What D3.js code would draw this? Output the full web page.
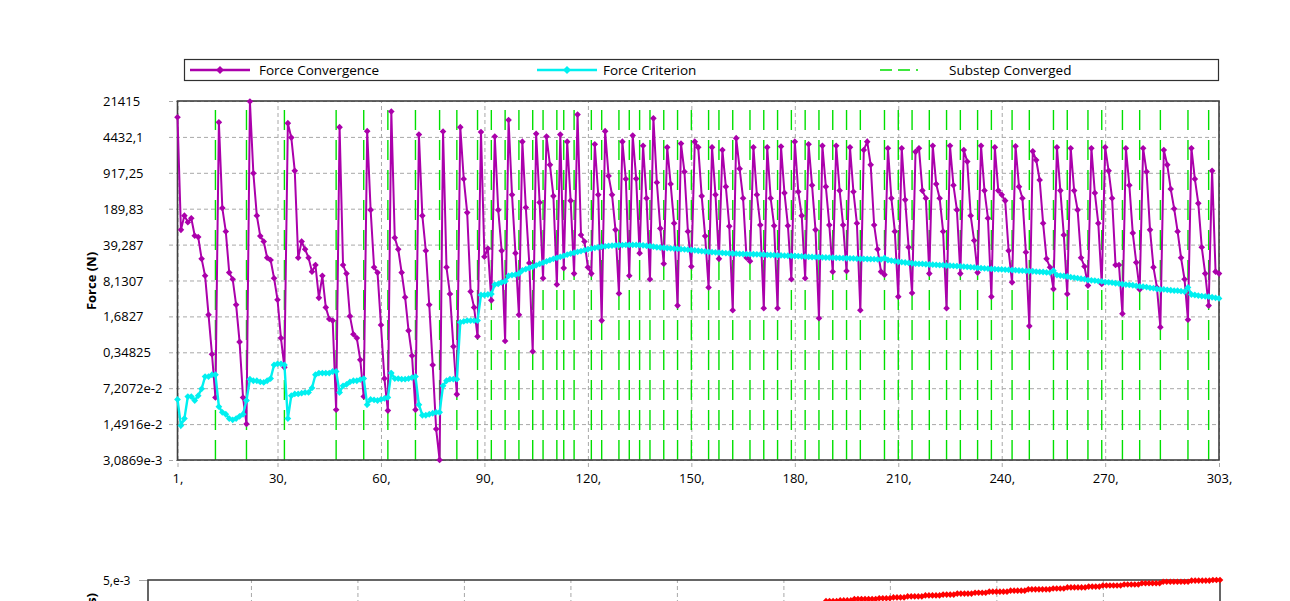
<!DOCTYPE html>
<html><head><meta charset="utf-8">
<script src="https://cdn.jsdelivr.net/npm/d3@7"></script>
<style>
body{margin:0;background:#fff}
svg{display:block}
text{font-family:"Open Sans",Arial,sans-serif;fill:#000}
</style></head>
<body><svg id="c" width="1290" height="601"></svg>
<script>
// ---------- data ----------
const iterTicks=[1,30,60,90,120,150,180,210,240,270,303];
const iterTickLabels=["1,","30,","60,","90,","120,","150,","180,","210,","240,","270,","303,"];
const forceTicks=[21415,4432.1,917.25,189.83,39.287,8.1307,1.6827,0.34825,0.072072,0.014916,0.0030869];
const forceTickLabels=["21415","4432,1","917,25","189,83","39,287","8,1307","1,6827","0,34825","7,2072e-2","1,4916e-2","3,0869e-3"];
const timeTicks=[0.005];
const timeTickLabels=["5,e-3"];
const seriesNames=["Force Convergence","Force Criterion","Substep Converged"];

// iterations at which a substep converged
const substepConverged=[12,21,32,47,55,62,70,77,82,88,92,96,100,104,107,111,113,116,121,124,129,132,135,138,142,146,150,155,158,162,167,171,175,179,183,187,191,195,199,206,210,214,219,224,228,233,237,243,248,255,259,265,269,275,280,286,294,300];

// Force Convergence (N), one value per cumulative iteration 1..303
const forceConvergence=[
 10500,75,140,105,125,58,55,21,10,1.8,0.32,0.048,
 8400,195,70,11.5,8.6,2.8,0.55,0.048,0.015,
 21000,900,140,57,45,22,20,9,3.5,0.65,0.18,
 8100,4300,1000,22,45,32,22,12,16,3.8,10,2.5,1.5,1.4,0.028,
 6800,16,11,1.7,0.77,0.65,0.25,0.05,
 5700,180,14.5,11.5,1.15,0.11,0.027,
 13500,53,32,11.5,3.9,0.9,0.3,0.028,
 4900,140,30,2.8,0.2,0.012,0.0031,
 5600,14.5,4.5,0.45,0.055,
 6800,700,160,5,2.5,0.7,
 5500,23,33,3.4,
 4500,180,30,0.57,
 9300,350,27,1.8,
 3600,200,17.5,0.36,
 5100,250,9,
 4500,1300,330,6.8,
 4900,14,
 3600,270,11,
 11800,60,45,14.5,11,
 3200,350,1.4,
 5700,800,350,75,4.6,
 3600,700,10,
 4700,710,27,
 3000,300,8.6,
 10000,600,80,17,
 2800,560,100,2.7,
 3300,960,70,15,
 3600,2800,330,57,6,
 2800,350,21,
 2500,500,88,2.2,
 4200,1100,300,22,19,
 2800,350,93,2.4,
 2800,300,90,2.4,
 2900,380,90,8.6,
 3600,400,140,9,
 3200,530,75,1.55,
 3000,500,93,12,
 3000,420,93,12.3,
 2800,400,100,2.2,
 2500,3600,1300,93,32,12,10.5,
 2700,300,70,4,
 2700,280,35,4.7,
 2300,2700,420,300,11,
 3000,560,300,70,2.4,
 3000,530,180,11,
 2500,1500,140,47,11.5,
 3000,420,125,4,
 2800,420,350,270,30,7.5,
 2950,500,300,28,1.1,
 2350,1600,670,100,21,14.5,5.6,
 2800,420,60,4.5,
 2700,420,180,22,15,6.5,
 2700,380,100,7,
 2800,1000,300,16,16,1.9,
 2700,530,65,18,5.5,
 2700,960,75,14.5,6,1.05,
 2500,1300,450,190,70,22,8.6,1.45,
 2700,700,240,35,11,2.7,
 1000,12,11
];

// Force Criterion (N), one value per cumulative iteration 1..303
const forceCriterion=[
 0.044,0.014,0.019,0.05,0.05,0.042,0.052,0.07,0.12,0.12,
 0.13,0.13,0.032,0.025,0.023,0.019,0.018,0.019,0.021,0.023,
 0.042,0.107,0.1,0.1,0.095,0.093,0.1,0.11,0.2,0.21,
 0.21,0.2,0.019,0.052,0.056,0.056,0.058,0.06,0.06,0.073,
 0.13,0.14,0.14,0.14,0.14,0.15,0.15,0.06,0.08,0.085,
 0.095,0.1,0.1,0.105,0.11,0.035,0.044,0.043,0.042,0.044,
 0.046,0.048,0.14,0.11,0.11,0.107,0.107,0.11,0.115,0.12,
 0.035,0.022,0.022,0.023,0.024,0.025,0.025,0.08,0.1,0.107,
 0.107,0.107,1.3,1.35,1.4,1.4,1.4,1.4,4.3,4.3,
 4.4,4.5,6.8,7.0,7.5,7.8,10,10.3,10.5,11,
 12.7,13.4,14.1,14.8,15.8,16.8,17.8,18.8,19.9,21,
 22,23,24,25.2,26.5,27.5,28.5,29.6,30.8,32,
 33,34,35,35.8,36.5,37.1,37.6,38,38.3,38.5,
 38.7,38.8,38.8,38.7,38.5,38,37.3,36.6,35.8,35,
 34.6,34.2,33.8,33.4,33,32.6,32.2,31.8,31.4,31,
 30.5,30,29.5,29,28.5,28.2,27.9,27.6,27.3,27,
 26.8,26.6,26.4,26.2,26,25.9,25.8,25.7,25.6,25.5,
 25.3,25.1,24.9,24.7,24.5,24.4,24.2,24.1,24,23.8,
 23.6,23.4,23.2,23,22.8,22.7,22.6,22.5,22.3,22.2,
 22.1,22,21.9,21.7,21.6,21.5,21.4,21.2,21.1,21,
 20.9,20.8,20.7,20.6,20.5,21.8,20.0,19.5,19,18.5,
 18.2,17.9,17.6,17.3,17,16.9,16.8,16.6,16.4,16.3,
 16.2,16,15.9,15.7,15.6,15.4,15.3,15.1,15,14.8,
 14.6,14.4,14.2,14,13.8,13.7,13.5,13.4,13.3,13.2,
 13.1,13,12.9,12.8,12.6,12.5,12.4,12.3,12.2,12,
 11.9,11.8,11.6,11.5,12.5,10.3,10.1,9.9,9.7,9.4,
 9.2,9,8.8,8.6,8.3,8.2,8.1,7.9,7.8,7.6,
 7.5,7.4,7.2,7.1,6.9,6.8,6.7,6.6,6.4,6.3,
 6.2,6.1,5.9,5.8,5.6,5.5,5.5,5.4,5.3,5.2,
 5.2,5.1,5.0,6.0,4.4,4.3,4.2,4.1,4.05,4.0,
 3.9,3.8,3.7
];

// Time (s) of the substeps visible in the lower chart (substep end iteration -> time)
const timeIters=[195,199,206,210,214,219,224,228,233,237,243,248,255,259,265,269,275,280,286,294,300,303];
const timeValues=[4.706e-3,4.717e-3,4.736e-3,4.747e-3,4.758e-3,4.772e-3,4.786e-3,4.797e-3,4.811e-3,4.822e-3,4.838e-3,4.852e-3,4.870e-3,4.881e-3,4.897e-3,4.908e-3,4.924e-3,4.938e-3,4.954e-3,4.976e-3,4.992e-3,5.000e-3];

// ---------- drawing ----------
const MAG="#ab00ab", CYAN="#00f0f0", GREEN="#00e000", GRID="#a8a8a8", FRAME="#404040";
const svg=d3.select("#c");
const L=177.5,R=1219,T=101,B=460;
const x=d3.scaleLinear().domain([1,303]).range([L,R]);
const y=d3.scaleLog().domain([0.0030869,21415]).range([B,T]);
const diamond=r=>`M0,${-r}L${r},0L0,${r}L${-r},0Z`;

// y axis with gridlines
const yAx=svg.append("g").attr("transform",`translate(169,0)`)
 .call(d3.axisLeft(y).tickValues(forceTicks).tickFormat((d,i)=>forceTickLabels[i])
   .tickSize(-(R-169)).tickPadding(0));
yAx.select(".domain").remove();
yAx.selectAll("line").attr("stroke",GRID).attr("stroke-dasharray","4,3");
yAx.selectAll("text").attr("x",103-169).attr("text-anchor","start").attr("dy","0.35em")
 .style("font-size","13px");

// x axis with gridlines
const xAx=svg.append("g").attr("transform",`translate(0,467)`)
 .call(d3.axisBottom(x).tickValues(iterTicks).tickFormat((d,i)=>iterTickLabels[i])
   .tickSize(-(467-T)).tickPadding(7));
xAx.select(".domain").remove();
xAx.selectAll("line").attr("stroke",GRID).attr("stroke-dasharray","4,3");
xAx.selectAll("text").style("font-size","13px");

// substep converged lines
svg.append("g").selectAll("line").data(substepConverged).join("line")
 .attr("x1",d=>x(d)).attr("x2",d=>x(d)).attr("y1",B).attr("y2",T+6)
 .attr("stroke",GREEN).attr("stroke-width",1.4).attr("stroke-dasharray","20,10");

// frame
svg.append("rect").attr("x",L).attr("y",T).attr("width",R-L).attr("height",B-T)
 .attr("fill","none").attr("stroke",FRAME).attr("stroke-width",1.6);

// force convergence
const line=d3.line().x((d,i)=>x(i+1)).y(d=>y(d));
svg.append("path").datum(forceConvergence).attr("d",line)
 .attr("fill","none").attr("stroke",MAG).attr("stroke-width",2);
svg.append("g").selectAll("path").data(forceConvergence).join("path")
 .attr("d",diamond(3.3)).attr("transform",(d,i)=>`translate(${x(i+1)},${y(d)})`).attr("fill",MAG);

// force criterion
svg.append("path").datum(forceCriterion).attr("d",line)
 .attr("fill","none").attr("stroke",CYAN).attr("stroke-width",2.4);
svg.append("g").selectAll("path").data(forceCriterion).join("path")
 .attr("d",diamond(3.4)).attr("transform",(d,i)=>`translate(${x(i+1)},${y(d)})`).attr("fill",CYAN);

// y title
svg.append("text").attr("transform","translate(96,281) rotate(-90)").attr("text-anchor","middle")
 .style("font-size","13px").style("font-weight","bold").text("Force (N)");

// legend
const lg=svg.append("g");
lg.append("rect").attr("x",184.5).attr("y",59.5).attr("width",1034).attr("height",21)
 .attr("fill","#fff").attr("stroke","#303030").attr("stroke-width",1.2);
lg.append("line").attr("x1",190).attr("x2",250).attr("y1",70).attr("y2",70).attr("stroke",MAG).attr("stroke-width",2.5);
lg.append("path").attr("d",diamond(4)).attr("transform","translate(220,70)").attr("fill",MAG);
lg.append("text").attr("x",259).attr("y",70).attr("dy","0.35em").style("font-size","13.5px").text(seriesNames[0]);
lg.append("line").attr("x1",537).attr("x2",597).attr("y1",70).attr("y2",70).attr("stroke",CYAN).attr("stroke-width",2.5);
lg.append("path").attr("d",diamond(4)).attr("transform","translate(567,70)").attr("fill",CYAN);
lg.append("text").attr("x",603).attr("y",70).attr("dy","0.35em").style("font-size","13.5px").text(seriesNames[1]);
lg.append("line").attr("x1",880).attr("x2",945).attr("y1",70).attr("y2",70).attr("stroke",GREEN).attr("stroke-width",1.5)
 .attr("stroke-dasharray","12,6,12,6,2,40");
lg.append("text").attr("x",949).attr("y",70).attr("dy","0.35em").style("font-size","13.5px").text(seriesNames[2]);

// ---------- lower chart (time) ----------
const L2=148,T2=580;
const x2=d3.scaleLinear().domain([1,303]).range([L2,R+1]);
const y2=d3.scaleLinear().domain([0,0.005]).range([940,T2]);
const yAx2=svg.append("g").attr("transform",`translate(139,0)`)
 .call(d3.axisLeft(y2).tickValues(timeTicks).tickFormat((d,i)=>timeTickLabels[i]).tickSize(-(L2-139)).tickPadding(0));
yAx2.select(".domain").remove();
yAx2.selectAll("line").attr("stroke",GRID);
yAx2.selectAll("text").attr("x",103-139).attr("text-anchor","start").attr("dy","0.35em").style("font-size","12px");
const xAx2=svg.append("g").attr("transform",`translate(0,940)`)
 .call(d3.axisBottom(x2).tickValues(iterTicks.slice(1,-1)).tickFormat("").tickSize(-(940-T2)));
xAx2.select(".domain").remove();
xAx2.selectAll("line").attr("stroke",GRID).attr("stroke-dasharray","4,3");
svg.append("rect").attr("x",L2).attr("y",T2).attr("width",R+1-L2).attr("height",400)
 .attr("fill","none").attr("stroke",FRAME).attr("stroke-width",1.6);
// time per iteration: value of the substep that iteration belongs to
const timeSeries=[];
for(let it=192;it<=303;it++){
  const j=timeIters.findIndex(e=>e>=it);
  timeSeries.push({it,t:timeValues[j]});
}
svg.append("path").datum(timeSeries).attr("d",d3.line().x(d=>x2(d.it)).y(d=>y2(d.t)))
 .attr("fill","none").attr("stroke","#ff0000").attr("stroke-width",2);
svg.append("g").selectAll("path").data(timeSeries).join("path")
 .attr("d",diamond(3.3)).attr("transform",d=>`translate(${x2(d.it)},${y2(d.t)})`).attr("fill","#ff0000");
svg.append("text").attr("transform","translate(96,593) rotate(-90)").attr("text-anchor","end")
 .style("font-size","13px").style("font-weight","bold").text("Time (s)");
</script></body></html>
